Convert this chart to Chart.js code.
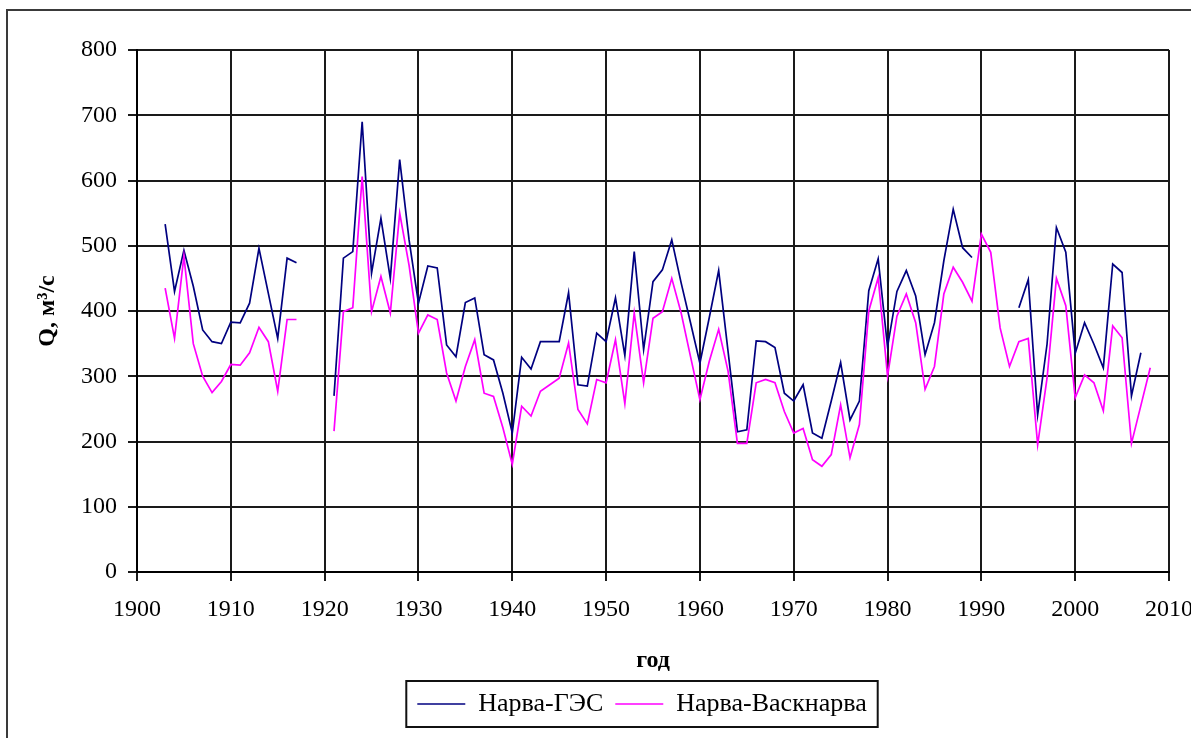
<!DOCTYPE html>
<html lang="ru">
<head>
<meta charset="utf-8">
<title>Расход воды р. Нарва</title>
<script src="https://cdn.jsdelivr.net/npm/chart.js@4/dist/chart.umd.min.js"></script>
<style>
  html, body { margin: 0; padding: 0; background: #fff; }
  canvas { display: block; }
</style>
</head>
<body>
<canvas id="chart" width="1191" height="738"></canvas>
<script>
// Годы наблюдений
const firstYear = 1903;
const lastYear = 2008;
const years = [];
for (let y = firstYear; y <= lastYear; y++) years.push(y);

// Среднегодовой расход, м3/с — Нарва-ГЭС (null — нет данных)
const narvaGES = [
  /*1903*/ 533, 430, 493, 438, 371, 353, 350,
  /*1910*/ 383, 382, 412, 496, 427, 358, 481, 474, null, null,
  /*1920*/ null, 270, 481, 491, 690, 458, 542, 450, 632, 509,
  /*1930*/ 412, 469, 466, 348, 330, 413, 420, 333, 325, 274,
  /*1940*/ 213, 329, 311, 353, 353, 353, 428, 287, 285, 366,
  /*1950*/ 353, 420, 332, 491, 341, 445, 463, 509, 443, 382,
  /*1960*/ 320, 390, 462, 338, 215, 218, 354, 353, 344, 274,
  /*1970*/ 262, 287, 213, 205, 262, 321, 233, 262, 431, 480,
  /*1980*/ 345, 430, 462, 423, 333, 382, 477, 556, 497, 482,
  /*1990*/ null, null, null, null, 405, 448, 241, 349, 528, 490,
  /*2000*/ 335, 382, 349, 313, 472, 459, 270, 336, null
];

// Среднегодовой расход, м3/с — Нарва-Васкнарва
const narvaVasknarva = [
  /*1903*/ 435, 358, 484, 350, 300, 275, 292,
  /*1910*/ 318, 317, 336, 375, 353, 277, 387, 387, null, null,
  /*1920*/ null, 216, 399, 405, 606, 399, 453, 397, 550, 470,
  /*1930*/ 366, 394, 387, 305, 262, 315, 356, 274, 269, 221,
  /*1940*/ 165, 254, 239, 277, 287, 297, 351, 249, 227, 295,
  /*1950*/ 290, 356, 258, 397, 290, 389, 399, 450, 397, 330,
  /*1960*/ 264, 323, 372, 308, 197, 197, 290, 295, 290, 246,
  /*1970*/ 213, 220, 172, 162, 180, 256, 175, 226, 400, 451,
  /*1980*/ 300, 392, 426, 382, 280, 315, 426, 467, 444, 415,
  /*1990*/ 518, 490, 374, 315, 353, 358, 195, 297, 450, 408,
  /*2000*/ 267, 302, 290, 247, 377, 359, 197, 255, 313
];

const seriesNames = ['Нарва-ГЭС', 'Нарва-Васкнарва'];
const xAxisTitle = 'год';
const yAxisTitle = 'Q, м³/с';
const xRange = [1900, 2010];
const yRange = [0, 800];

const toPoints = values => years.map((yr, i) => ({ x: yr, y: values[i] }));

const serif = "'Liberation Serif', 'Times New Roman', serif";

// Белый фон, внешняя рамка и рамка вокруг легенды
const framePlugin = {
  id: 'frame',
  afterLayout(chart) {
    // легенда немного левее центра области построения
    const lg = chart.legend;
    lg.left -= 11;
    lg.right -= 11;
  },
  beforeDraw(chart) {
    const ctx = chart.ctx;
    ctx.save();
    ctx.fillStyle = '#ffffff';
    ctx.fillRect(0, 0, chart.width, chart.height);
    ctx.restore();
  },
  afterDraw(chart) {
    const ctx = chart.ctx;
    ctx.save();
    ctx.strokeStyle = '#3a3a3a';
    ctx.lineWidth = 2;
    ctx.strokeRect(7, 10, 1400, 1000);

    const lg = chart.legend;
    const boxes = lg.legendHitBoxes;
    if (boxes && boxes.length) {
      const left = Math.min(...boxes.map(b => b.left)) - 11;
      const right = Math.max(...boxes.map(b => b.left + b.width)) + 11;
      const itemTop = lg.top + lg.options.labels.padding;
      const top = itemTop - 10;
      const bottom = itemTop + boxes[0].height + 10;
      ctx.strokeStyle = '#111111';
      ctx.lineWidth = 2;
      ctx.strokeRect(left, top, right - left, bottom - top);
    }
    ctx.restore();
  }
};

new Chart(document.getElementById('chart'), {
  type: 'line',
  data: {
    datasets: [
      {
        label: seriesNames[0],
        data: toPoints(narvaGES),
        borderColor: '#000080',
        backgroundColor: '#000080',
        borderWidth: 1.7,
        order: 1
      },
      {
        label: seriesNames[1],
        data: toPoints(narvaVasknarva),
        borderColor: '#ff00ff',
        backgroundColor: '#ff00ff',
        borderWidth: 1.7,
        order: 0
      }
    ]
  },
  options: {
    responsive: false,
    animation: false,
    spanGaps: false,
    elements: {
      point: { radius: 0, hoverRadius: 0 },
      line: { tension: 0 }
    },
    layout: {
      padding: { left: 10, right: 22, top: 50, bottom: 11 }
    },
    plugins: {
      tooltip: { enabled: false },
      legend: {
        position: 'bottom',
        fullSize: false,
        labels: {
          usePointStyle: true,
          pointStyle: 'line',
          pointStyleWidth: 48,
          padding: 12,
          color: '#000',
          font: { family: serif, size: 26 },
          sort: (a, b) => a.datasetIndex - b.datasetIndex
        }
      }
    },
    scales: {
      x: {
        type: 'linear',
        min: xRange[0],
        max: xRange[1],
        border: { color: '#000', width: 2 },
        grid: { color: '#1a1a1a', lineWidth: 2, tickLength: 9 },
        ticks: {
          stepSize: 10,
          padding: 14,
          color: '#000',
          maxRotation: 0,
          font: { family: serif, size: 24 },
          callback: v => String(v)
        },
        title: {
          display: true,
          text: xAxisTitle,
          color: '#000',
          font: { family: serif, size: 24, weight: 'bold' },
          padding: { top: 0, bottom: 4 }
        },
        afterFit(scale) {
          scale.height = 107;
          scale.paddingLeft = 0;
          scale.paddingRight = 0;
        }
      },
      y: {
        min: yRange[0],
        max: yRange[1],
        border: { color: '#000', width: 2 },
        grid: { color: '#1a1a1a', lineWidth: 2, tickLength: 9 },
        ticks: {
          stepSize: 100,
          padding: 11,
          color: '#000',
          font: { family: serif, size: 24 }
        },
        title: {
          display: true,
          text: yAxisTitle,
          color: '#000',
          font: { family: serif, size: 24, weight: 'bold' },
          padding: { top: 23.6, bottom: 0 }
        },
        afterFit(scale) {
          scale.width = 127;
        }
      }
    }
  },
  plugins: [framePlugin]
});
</script>
</body>
</html>
